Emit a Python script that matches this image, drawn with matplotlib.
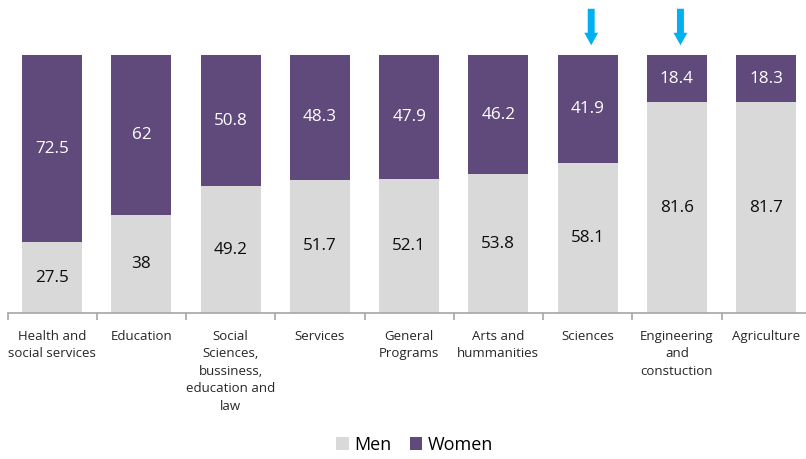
import matplotlib.pyplot as plt
import matplotlib.transforms as mtransforms
import numpy as np

plt.rcParams['font.family'] = ['Open Sans', 'DejaVu Sans']

# Share of graduates by field of study (%)
fields = ["Health and\nsocial services", "Education",
          "Social\nSciences,\nbussiness,\neducation and\nlaw",
          "Services", "General\nPrograms", "Arts and\nhummanities",
          "Sciences", "Engineering\nand\nconstuction", "Agriculture"]
men = [27.5, 38, 49.2, 51.7, 52.1, 53.8, 58.1, 81.6, 81.7]
women = [72.5, 62, 50.8, 48.3, 47.9, 46.2, 41.9, 18.4, 18.3]
highlighted = ["Sciences", "Engineering\nand\nconstuction"]

men_color = '#D9D9D9'
women_color = '#604A7B'

fig = plt.figure(figsize=(8.06, 4.59), dpi=100)
ax = fig.add_axes([7.5 / 806, 1 - 313 / 459, 803.25 / 806, 258 / 459])

x = np.arange(len(fields))
width = 0.67
ax.bar(x, men, width, color=men_color, label='Men')
ax.bar(x, women, width, bottom=men, color=women_color, label='Women')

for xi, m, w in zip(x, men, women):
    ax.text(xi, m / 2, f"{m:g}", ha='center', va='center', fontsize=12.3, color='#0D0D0D')
    ax.text(xi, m + w / 2, f"{w:g}", ha='center', va='center', fontsize=12.3, color='white')

ax.set_xlim(-0.5, len(fields) - 0.5)
ax.set_ylim(0, 100)
ax.set_yticks([])
for s in ['top', 'right', 'left']:
    ax.spines[s].set_visible(False)
ax.spines['bottom'].set_color('#A6A6A6')
ax.spines['bottom'].set_linewidth(1.2)

ax.set_xticks(x)
ax.set_xticklabels(fields, fontsize=9.5, color='#262626', va='top', linespacing=1.45)
ax.tick_params(axis='x', which='major', length=0, pad=12)
ax.set_xticks(np.arange(len(fields) + 1) - 0.5, minor=True)
ax.tick_params(axis='x', which='minor', length=5, color='#A6A6A6', width=1.2)

# Arrows pointing at the highlighted fields
trans = mtransforms.blended_transform_factory(ax.transData, ax.transAxes)
for name in highlighted:
    xi = fields.index(name)
    ax.annotate('', xy=(xi + 0.04, 1.027), xytext=(xi + 0.04, 1.19),
                xycoords=trans, textcoords=trans, annotation_clip=False,
                arrowprops=dict(arrowstyle='simple,head_length=0.9,head_width=1.0,tail_width=0.5',
                                color='#00B0F0', lw=0))

ax.legend(loc='upper center', bbox_to_anchor=(0.507, -0.435), ncol=2, frameon=False,
          fontsize=13, handlelength=0.7, handleheight=0.7, handletextpad=0.3,
          columnspacing=1.0, borderaxespad=0.2)

fig.savefig('out.png', dpi=100)
